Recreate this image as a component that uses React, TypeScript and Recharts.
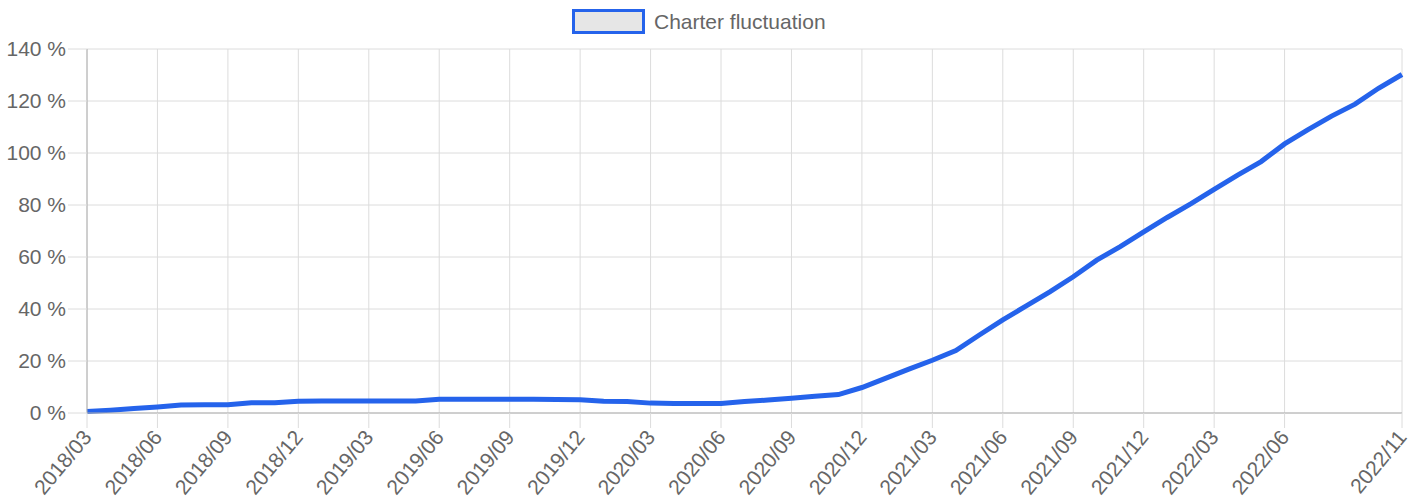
import React from "react";
import { LineChart, Line, XAxis, YAxis, CartesianGrid, Legend } from "recharts";

const MONTHS = [
  "2018/03", "2018/04", "2018/05", "2018/06", "2018/07", "2018/08", "2018/09", "2018/10", "2018/11", "2018/12",
  "2019/01", "2019/02", "2019/03", "2019/04", "2019/05", "2019/06", "2019/07", "2019/08", "2019/09", "2019/10",
  "2019/11", "2019/12", "2020/01", "2020/02", "2020/03", "2020/04", "2020/05", "2020/06", "2020/07", "2020/08",
  "2020/09", "2020/10", "2020/11", "2020/12", "2021/01", "2021/02", "2021/03", "2021/04", "2021/05", "2021/06",
  "2021/07", "2021/08", "2021/09", "2021/10", "2021/11", "2021/12", "2022/01", "2022/02", "2022/03", "2022/04",
  "2022/05", "2022/06", "2022/07", "2022/08", "2022/09", "2022/10", "2022/11",
];

const FLUCTUATION = [
  0.6, 1.1, 1.7, 2.3, 3.1, 3.2, 3.2, 3.9, 3.9, 4.5,
  4.6, 4.6, 4.6, 4.6, 4.6, 5.3, 5.3, 5.3, 5.3, 5.3,
  5.2, 5.1, 4.5, 4.4, 3.8, 3.7, 3.7, 3.7, 4.4, 5.0,
  5.7, 6.4, 7.1, 9.8, 13.3, 16.9, 20.3, 24.0, 30.0, 35.8,
  41.2, 46.6, 52.4, 58.8, 64.0, 69.7, 75.2, 80.4, 86.0, 91.5,
  96.7, 103.5, 109.0, 114.2, 118.8, 124.9, 130.2,
];

// indexes of months that get a label / grid line
const X_TICKS = [0, 3, 6, 9, 12, 15, 18, 21, 24, 27, 30, 33, 36, 39, 42, 45, 48, 51, 56];
const Y_TICKS = [0, 20, 40, 60, 80, 100, 120, 140];

const SERIES_NAME = "Charter fluctuation";
const BLUE = "#2563eb";
const GRID = "#dcdcdc";
const FONT = "Liberation Sans, Arial, sans-serif";

const data = MONTHS.map((m, i) => ({ idx: i, month: m, value: FLUCTUATION[i] }));

function MonthTick(props: any) {
  const { x, y, payload } = props;
  return (
    <text
      x={x}
      y={y + 5}
      transform={`rotate(-50, ${x}, ${y + 5})`}
      textAnchor="end"
      dominantBaseline="central"
      fill="#666"
      fontSize={21}
      fontFamily={FONT}
    >
      {MONTHS[payload.value]}
    </text>
  );
}

function LegendBox() {
  return (
    <div style={{ display: "flex", alignItems: "center", fontFamily: FONT, fontSize: 21, color: "#666" }}>
      <span
        style={{
          display: "inline-block",
          width: 67,
          height: 19,
          border: `3px solid ${BLUE}`,
          background: "#e6e6e6",
          marginRight: 9,
        }}
      />
      {SERIES_NAME}
    </div>
  );
}

export default function App() {
  return (
    <div style={{ position: "absolute", left: 0, top: 0, background: "#fff" }}>
      <LineChart
        width={1423}
        height={501}
        data={data}
        margin={{ top: 49, right: 21, bottom: 0, left: 0 }}
      >
        <CartesianGrid stroke={GRID} strokeWidth={1} />
        <XAxis
          dataKey="idx"
          type="number"
          domain={[0, 56]}
          ticks={X_TICKS}
          interval={0}
          height={88}
          tickSize={15}
          tickMargin={0}
          tickLine={{ stroke: GRID }}
          axisLine={{ stroke: "#b0b0b0" }}
          tick={<MonthTick />}
        />
        <YAxis
          type="number"
          domain={[0, 140]}
          ticks={Y_TICKS}
          interval={0}
          width={87}
          tickSize={19}
          tickMargin={2}
          tickLine={{ stroke: GRID }}
          axisLine={{ stroke: "#b0b0b0" }}
          tickFormatter={(v: number) => `${v} %`}
          tick={{ fill: "#666", fontSize: 21, fontFamily: FONT }}
        />
        <Legend
          verticalAlign="middle"
          layout="horizontal"
          wrapperStyle={{ top: 9, left: 572, width: 320 }}
          content={() => <LegendBox />}
        />
        <Line
          type="linear"
          dataKey="value"
          name={SERIES_NAME}
          stroke={BLUE}
          strokeWidth={5}
          dot={false}
          activeDot={false}
          isAnimationActive={false}
        />
      </LineChart>
    </div>
  );
}
